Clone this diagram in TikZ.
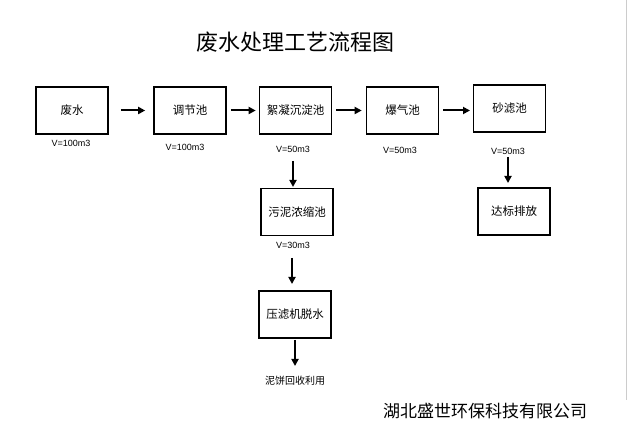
\documentclass[tikz,border=0pt]{standalone}
\usepackage{fontspec}
\setmainfont{Liberation Sans}
\newfontfamily\cjk{Noto Sans CJK SC}
\usetikzlibrary{arrows.meta}
\begin{document}
\begin{tikzpicture}[x=1pt,y=-1pt,
 box/.style={draw,line width=1.6pt,minimum width=#1,minimum height=47pt,inner sep=0pt,font=\cjk\fontsize{11.5}{12}\selectfont},
 box/.default=72pt,
 vol/.style={font=\fontsize{9}{10}\selectfont},
 arr/.style={line width=2pt,-{Triangle[length=7pt,width=7pt]}}]
\useasboundingbox (0,0) rectangle (632,438);
\draw[gray!40,line width=1pt] (626,0) -- (626,400);
\node[font=\cjk\fontsize{22}{26}\selectfont] (t) at (295,42) {废水处理工艺流程图};
\node[box] (a) at (72,110.5) {废水};
\node[box] (b) at (190,110.5) {调节池};
\node[box] (c) at (295.5,110.5) {絮凝沉淀池};
\node[box] (d) at (402.5,110.5) {爆气池};
\node[box] (e) at (509.5,108.5) {砂滤池};
\node[box] (f) at (297,212) {污泥浓缩池};
\node[box] (g) at (514,211.5) {达标排放};
\node[box] (h) at (295,314.5) {压滤机脱水};
\node[vol] (va) at (71,143) {V=100m3};
\node[vol] (vb) at (185,147) {V=100m3};
\node[vol] (vc) at (293,149) {V=50m3};
\node[vol] (vd) at (400,150) {V=50m3};
\node[vol] (ve) at (508,151) {V=50m3};
\node[vol] (vf) at (293,245) {V=30m3};
\node[font=\cjk\fontsize{10}{12}\selectfont] (i) at (295,381) {泥饼回收利用};
\node[font=\cjk\fontsize{17}{20}\selectfont] (co) at (485,411) {湖北盛世环保科技有限公司};
\coordinate (p1) at (293,161); \coordinate (q1) at (293,187);
\coordinate (p2) at (508,157); \coordinate (q2) at (508,183);
\coordinate (p3) at (292,258); \coordinate (q3) at (292,284);
\coordinate (p4) at (295,340); \coordinate (q4) at (295,366);
\draw[arr] ([xshift=12pt]a.east) -- ([xshift=-8pt]b.west);
\draw[arr] ([xshift=4pt]b.east) -- ([xshift=-3pt]c.west);
\draw[arr] ([xshift=4pt]c.east) -- ([xshift=-4pt]d.west);
\draw[arr] ([xshift=4pt]d.east) -- (470,110.5);
\draw[arr] (p1) -- (q1);
\draw[arr] (p2) -- (q2);
\draw[arr] (p3) -- (q3);
\draw[arr] (p4) -- (q4);
\end{tikzpicture}
\end{document}
